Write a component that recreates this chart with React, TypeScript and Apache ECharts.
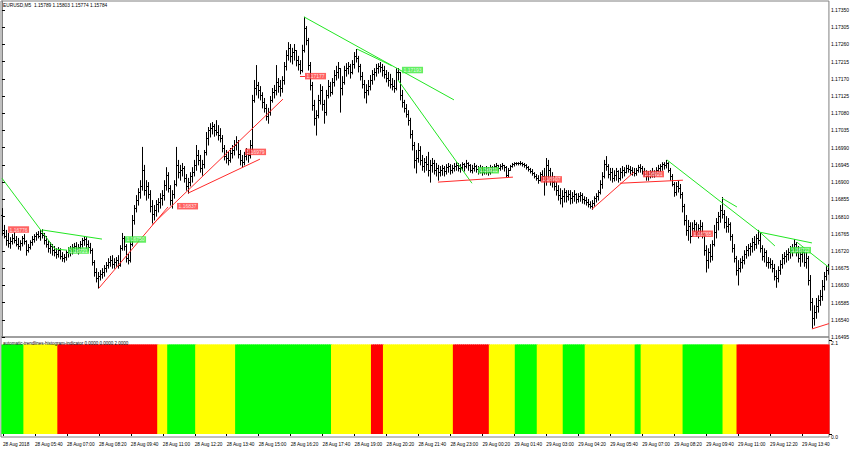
import React, { useEffect, useRef } from 'react';
import * as echarts from 'echarts';

const FONT = 'Liberation Sans';

const chartTitle = 'EURUSD,M5  1.15789 1.15803 1.15774 1.15784';
const indicatorTitle = 'automatic-trendlines-histogram-indicator 0.0000 0.0000 2.0000';

const priceTicks = [1.16495, 1.1654, 1.16585, 1.1663, 1.16675, 1.1672, 1.16765, 1.1681, 1.16855, 1.169, 1.16945, 1.1699, 1.17035, 1.1708, 1.17125, 1.1717, 1.17215, 1.1726, 1.17305, 1.1735];
const histTicks = [0, 2.1];

const dateTickLabels = ['28 Aug 2018', '28 Aug 05:40', '28 Aug 07:00', '28 Aug 08:20', '28 Aug 09:40', '28 Aug 11:00', '28 Aug 12:20', '28 Aug 13:40', '28 Aug 15:00', '28 Aug 16:20', '28 Aug 17:40', '28 Aug 19:00', '28 Aug 20:20', '28 Aug 21:40', '28 Aug 23:00', '29 Aug 00:20', '29 Aug 01:40', '29 Aug 03:00', '29 Aug 04:20', '29 Aug 05:40', '29 Aug 07:00', '29 Aug 08:20', '29 Aug 09:40', '29 Aug 11:00', '29 Aug 12:20', '29 Aug 13:40'];

const closes = [
1.16775,1.16759,1.16748,1.16741,1.16746,1.16754,1.16748,1.16738,1.16733,1.16741,
1.16754,1.16746,1.16722,1.16730,1.16743,1.16751,1.16759,1.16764,1.16759,1.16767,
1.16761,1.16748,1.16738,1.16727,1.16733,1.16722,1.16717,1.16712,1.16722,1.16707,
1.16701,1.16704,1.16717,1.16722,1.16725,1.16730,1.16733,1.16725,1.16730,1.16738,
1.16748,1.16751,1.16738,1.16730,1.16722,1.16691,1.16665,1.16649,1.16654,1.16659,
1.16665,1.16675,1.16683,1.16691,1.16696,1.16686,1.16691,1.16696,1.16683,1.16727,
1.16754,1.16733,1.16701,1.16696,1.16738,1.16801,1.16832,1.16853,1.16874,1.16890,
1.16931,1.16879,1.16890,1.16869,1.16837,1.16816,1.16827,1.16843,1.16848,1.16858,
1.16866,1.16892,1.16918,1.16884,1.16853,1.16869,1.16895,1.16945,1.16926,1.16931,
1.16937,1.16911,1.16890,1.16900,1.16916,1.16926,1.16945,1.16971,1.16958,1.16937,
1.16947,1.16979,1.17015,1.17036,1.17041,1.17047,1.17036,1.17031,1.17023,1.17015,
1.16989,1.16968,1.16963,1.16958,1.16976,1.16984,1.16997,1.17005,1.16973,1.16958,
1.16952,1.16968,1.16979,1.16971,1.16997,1.17115,1.17146,1.17154,1.17141,1.17128,
1.17109,1.17094,1.17073,1.17083,1.17115,1.17135,1.17141,1.17162,1.17151,1.17146,
1.17167,1.17204,1.17232,1.17251,1.17230,1.17240,1.17245,1.17219,1.17209,1.17193,
1.17245,1.17303,1.17272,1.17206,1.17154,1.17102,1.17068,1.17075,1.17115,1.17141,
1.17104,1.17083,1.17128,1.17151,1.17135,1.17162,1.17180,1.17188,1.17198,1.17146,
1.17162,1.17193,1.17198,1.17204,1.17188,1.17209,1.17230,1.17225,1.17204,1.17177,
1.17156,1.17135,1.17141,1.17151,1.17167,1.17183,1.17188,1.17198,1.17204,1.17201,
1.17193,1.17183,1.17172,1.17167,1.17156,1.17151,1.17146,1.17188,1.17188,1.17128,
1.17109,1.17094,1.17078,1.17062,1.17026,1.16997,1.16958,1.16963,1.16984,1.16958,
1.16942,1.16952,1.16947,1.16931,1.16945,1.16950,1.16931,1.16937,1.16926,1.16931,
1.16937,1.16929,1.16939,1.16942,1.16931,1.16937,1.16942,1.16945,1.16937,1.16939,
1.16947,1.16942,1.16950,1.16945,1.16931,1.16937,1.16942,1.16934,1.16929,1.16937,
1.16926,1.16931,1.16937,1.16926,1.16939,1.16934,1.16942,1.16945,1.16937,1.16942,
1.16945,1.16939,1.16918,1.16931,1.16942,1.16947,1.16950,1.16950,1.16950,1.16950,
1.16947,1.16945,1.16939,1.16934,1.16929,1.16924,1.16916,1.16911,1.16905,1.16921,
1.16916,1.16905,1.16945,1.16931,1.16905,1.16900,1.16890,1.16879,1.16866,1.16858,
1.16863,1.16874,1.16863,1.16869,1.16858,1.16863,1.16869,1.16856,1.16863,1.16866,
1.16856,1.16853,1.16848,1.16843,1.16837,1.16845,1.16858,1.16863,1.16874,1.16895,
1.16916,1.16947,1.16942,1.16921,1.16926,1.16911,1.16918,1.16929,1.16911,1.16926,
1.16931,1.16926,1.16937,1.16934,1.16931,1.16926,1.16924,1.16931,1.16939,1.16937,
1.16929,1.16921,1.16916,1.16921,1.16926,1.16921,1.16926,1.16931,1.16937,1.16942,
1.16947,1.16945,1.16950,1.16931,1.16916,1.16895,1.16874,1.16890,1.16884,1.16869,
1.16837,1.16801,1.16775,1.16785,1.16759,1.16780,1.16790,1.16769,1.16780,1.16785,
1.16764,1.16722,1.16696,1.16717,1.16707,1.16738,1.16769,1.16795,1.16811,1.16827,
1.16816,1.16795,1.16785,1.16790,1.16759,1.16727,1.16701,1.16670,1.16675,1.16691,
1.16696,1.16712,1.16722,1.16727,1.16733,1.16743,1.16738,1.16754,1.16748,1.16727,
1.16707,1.16717,1.16691,1.16691,1.16686,1.16675,1.16654,1.16649,1.16670,1.16686,
1.16701,1.16707,1.16712,1.16717,1.16722,1.16727,1.16738,1.16717,1.16701,1.16712,
1.16717,1.16691,1.16701,1.16644,1.16586,1.16544,1.16560,1.16576,1.16591,1.16602,
1.16628,1.16654,1.16670,1.16675
];

const opens = [
1.16814,1.16775,1.16759,1.16748,1.16741,1.16746,1.16754,1.16748,1.16738,1.16733,
1.16741,1.16754,1.16746,1.16722,1.16730,1.16743,1.16751,1.16759,1.16764,1.16759,
1.16767,1.16761,1.16748,1.16738,1.16727,1.16733,1.16722,1.16717,1.16712,1.16722,
1.16707,1.16701,1.16704,1.16717,1.16722,1.16725,1.16730,1.16733,1.16725,1.16730,
1.16738,1.16748,1.16751,1.16738,1.16730,1.16722,1.16691,1.16665,1.16649,1.16654,
1.16659,1.16665,1.16675,1.16683,1.16691,1.16696,1.16686,1.16691,1.16696,1.16683,
1.16727,1.16754,1.16733,1.16701,1.16696,1.16738,1.16801,1.16832,1.16853,1.16874,
1.16890,1.16931,1.16879,1.16890,1.16869,1.16837,1.16816,1.16827,1.16843,1.16848,
1.16858,1.16866,1.16892,1.16918,1.16884,1.16853,1.16869,1.16895,1.16945,1.16926,
1.16931,1.16937,1.16911,1.16890,1.16900,1.16916,1.16926,1.16945,1.16971,1.16958,
1.16937,1.16947,1.16979,1.17015,1.17036,1.17041,1.17047,1.17036,1.17031,1.17023,
1.17015,1.16989,1.16968,1.16963,1.16958,1.16976,1.16984,1.16997,1.17005,1.16973,
1.16958,1.16952,1.16968,1.16979,1.16971,1.16997,1.17115,1.17146,1.17154,1.17141,
1.17128,1.17109,1.17094,1.17073,1.17083,1.17115,1.17135,1.17141,1.17162,1.17151,
1.17146,1.17167,1.17204,1.17232,1.17251,1.17230,1.17240,1.17245,1.17219,1.17209,
1.17193,1.17245,1.17303,1.17272,1.17206,1.17154,1.17102,1.17068,1.17075,1.17115,
1.17141,1.17104,1.17083,1.17128,1.17151,1.17135,1.17162,1.17180,1.17188,1.17198,
1.17146,1.17162,1.17193,1.17198,1.17204,1.17188,1.17209,1.17230,1.17225,1.17204,
1.17177,1.17156,1.17135,1.17141,1.17151,1.17167,1.17183,1.17188,1.17198,1.17204,
1.17201,1.17193,1.17183,1.17172,1.17167,1.17156,1.17151,1.17146,1.17188,1.17188,
1.17128,1.17109,1.17094,1.17078,1.17062,1.17026,1.16997,1.16958,1.16963,1.16984,
1.16958,1.16942,1.16952,1.16947,1.16931,1.16945,1.16950,1.16931,1.16937,1.16926,
1.16931,1.16937,1.16929,1.16939,1.16942,1.16931,1.16937,1.16942,1.16945,1.16937,
1.16939,1.16947,1.16942,1.16950,1.16945,1.16931,1.16937,1.16942,1.16934,1.16929,
1.16937,1.16926,1.16931,1.16937,1.16926,1.16939,1.16934,1.16942,1.16945,1.16937,
1.16942,1.16945,1.16939,1.16918,1.16931,1.16942,1.16947,1.16950,1.16950,1.16950,
1.16950,1.16947,1.16945,1.16939,1.16934,1.16929,1.16924,1.16916,1.16911,1.16905,
1.16921,1.16916,1.16905,1.16945,1.16931,1.16905,1.16900,1.16890,1.16879,1.16866,
1.16858,1.16863,1.16874,1.16863,1.16869,1.16858,1.16863,1.16869,1.16856,1.16863,
1.16866,1.16856,1.16853,1.16848,1.16843,1.16837,1.16845,1.16858,1.16863,1.16874,
1.16895,1.16916,1.16947,1.16942,1.16921,1.16926,1.16911,1.16918,1.16929,1.16911,
1.16926,1.16931,1.16926,1.16937,1.16934,1.16931,1.16926,1.16924,1.16931,1.16939,
1.16937,1.16929,1.16921,1.16916,1.16921,1.16926,1.16921,1.16926,1.16931,1.16937,
1.16942,1.16947,1.16945,1.16950,1.16931,1.16916,1.16895,1.16874,1.16890,1.16884,
1.16869,1.16837,1.16801,1.16775,1.16785,1.16759,1.16780,1.16790,1.16769,1.16780,
1.16785,1.16764,1.16722,1.16696,1.16717,1.16707,1.16738,1.16769,1.16795,1.16811,
1.16827,1.16816,1.16795,1.16785,1.16790,1.16759,1.16727,1.16701,1.16670,1.16675,
1.16691,1.16696,1.16712,1.16722,1.16727,1.16733,1.16743,1.16738,1.16754,1.16748,
1.16727,1.16707,1.16717,1.16691,1.16691,1.16686,1.16675,1.16654,1.16649,1.16670,
1.16686,1.16701,1.16707,1.16712,1.16717,1.16722,1.16727,1.16738,1.16717,1.16701,
1.16712,1.16717,1.16691,1.16701,1.16644,1.16586,1.16544,1.16560,1.16576,1.16591,
1.16602,1.16628,1.16654,1.16670
];

const highs = [
1.16832,1.16788,1.16775,1.16767,1.16756,1.16764,1.16769,1.16759,1.16754,1.16748,
1.16759,1.16764,1.16748,1.16738,1.16748,1.16759,1.16764,1.16769,1.16772,1.16775,
1.16777,1.16767,1.16759,1.16748,1.16743,1.16738,1.16733,1.16727,1.16730,1.16727,
1.16717,1.16712,1.16722,1.16730,1.16733,1.16738,1.16741,1.16743,1.16738,1.16746,
1.16754,1.16759,1.16756,1.16748,1.16741,1.16727,1.16696,1.16675,1.16665,1.16670,
1.16675,1.16683,1.16691,1.16701,1.16707,1.16709,1.16701,1.16704,1.16709,1.16735,
1.16767,1.16759,1.16738,1.16712,1.16748,1.16814,1.16840,1.16866,1.16884,1.16905,
1.16992,1.16945,1.16905,1.16900,1.16879,1.16853,1.16840,1.16853,1.16858,1.16871,
1.16879,1.16905,1.16939,1.16926,1.16892,1.16879,1.16905,1.16992,1.16958,1.16945,
1.16950,1.16942,1.16921,1.16911,1.16926,1.16939,1.16958,1.16997,1.16984,1.16971,
1.16958,1.16984,1.17031,1.17044,1.17054,1.17057,1.17052,1.17062,1.17049,1.17041,
1.17023,1.16997,1.16984,1.16979,1.16989,1.16997,1.17010,1.17020,1.17010,1.16984,
1.16971,1.16979,1.16989,1.16984,1.17010,1.17128,1.17167,1.17206,1.17162,1.17151,
1.17135,1.17120,1.17104,1.17094,1.17125,1.17146,1.17154,1.17206,1.17172,1.17167,
1.17177,1.17214,1.17245,1.17266,1.17261,1.17251,1.17261,1.17245,1.17230,1.17219,
1.17259,1.17332,1.17308,1.17277,1.17214,1.17162,1.17115,1.17088,1.17128,1.17156,
1.17151,1.17115,1.17141,1.17167,1.17162,1.17172,1.17193,1.17204,1.17214,1.17198,
1.17177,1.17204,1.17211,1.17214,1.17209,1.17219,1.17240,1.17248,1.17230,1.17209,
1.17188,1.17167,1.17156,1.17167,1.17180,1.17193,1.17198,1.17209,1.17211,1.17214,
1.17209,1.17204,1.17193,1.17188,1.17183,1.17172,1.17167,1.17198,1.17198,1.17188,
1.17141,1.17115,1.17104,1.17088,1.17068,1.17036,1.17005,1.16984,1.17002,1.16994,
1.16971,1.16963,1.16968,1.16979,1.16958,1.16963,1.16958,1.16950,1.16945,1.16942,
1.16945,1.16942,1.16947,1.16950,1.16947,1.16945,1.16950,1.16952,1.16950,1.16947,
1.16952,1.16950,1.16958,1.16952,1.16947,1.16945,1.16950,1.16945,1.16942,1.16945,
1.16942,1.16939,1.16942,1.16939,1.16945,1.16942,1.16947,1.16950,1.16945,1.16947,
1.16950,1.16945,1.16942,1.16937,1.16945,1.16950,1.16952,1.16952,1.16952,1.16955,
1.16952,1.16950,1.16947,1.16942,1.16937,1.16934,1.16926,1.16921,1.16918,1.16926,
1.16931,1.16937,1.16963,1.16958,1.16937,1.16926,1.16916,1.16900,1.16892,1.16884,
1.16879,1.16884,1.16879,1.16879,1.16879,1.16874,1.16879,1.16871,1.16871,1.16874,
1.16871,1.16863,1.16861,1.16856,1.16850,1.16853,1.16863,1.16871,1.16879,1.16905,
1.16926,1.16958,1.16968,1.16947,1.16937,1.16937,1.16931,1.16937,1.16931,1.16937,
1.16942,1.16939,1.16945,1.16945,1.16942,1.16939,1.16937,1.16937,1.16945,1.16947,
1.16942,1.16937,1.16931,1.16929,1.16931,1.16937,1.16931,1.16939,1.16945,1.16947,
1.16952,1.16952,1.16958,1.16952,1.16937,1.16921,1.16900,1.16900,1.16905,1.16895,
1.16874,1.16843,1.16814,1.16801,1.16795,1.16795,1.16801,1.16795,1.16790,1.16801,
1.16795,1.16769,1.16735,1.16727,1.16738,1.16748,1.16788,1.16806,1.16822,1.16840,
1.16861,1.16827,1.16811,1.16806,1.16795,1.16764,1.16738,1.16707,1.16696,1.16701,
1.16707,1.16722,1.16733,1.16738,1.16741,1.16754,1.16759,1.16764,1.16775,1.16769,
1.16735,1.16727,1.16722,1.16704,1.16701,1.16696,1.16686,1.16670,1.16680,1.16696,
1.16712,1.16717,1.16722,1.16727,1.16733,1.16738,1.16751,1.16743,1.16733,1.16727,
1.16727,1.16722,1.16717,1.16707,1.16657,1.16597,1.16578,1.16597,1.16604,1.16618,
1.16644,1.16665,1.16680,1.16686
];

const lows = [
1.16761,1.16754,1.16735,1.16730,1.16727,1.16738,1.16741,1.16733,1.16725,1.16722,
1.16733,1.16738,1.16709,1.16717,1.16725,1.16735,1.16743,1.16748,1.16754,1.16748,
1.16754,1.16738,1.16730,1.16717,1.16714,1.16709,1.16707,1.16701,1.16704,1.16699,
1.16693,1.16691,1.16696,1.16704,1.16707,1.16712,1.16720,1.16717,1.16712,1.16722,
1.16730,1.16735,1.16727,1.16720,1.16714,1.16683,1.16654,1.16639,1.16623,1.16644,
1.16649,1.16654,1.16665,1.16675,1.16680,1.16675,1.16675,1.16680,1.16675,1.16680,
1.16722,1.16722,1.16691,1.16686,1.16691,1.16733,1.16790,1.16822,1.16840,1.16858,
1.16879,1.16866,1.16853,1.16858,1.16822,1.16793,1.16801,1.16811,1.16822,1.16832,
1.16840,1.16853,1.16879,1.16874,1.16840,1.16832,1.16858,1.16890,1.16911,1.16905,
1.16916,1.16900,1.16879,1.16871,1.16890,1.16900,1.16916,1.16931,1.16945,1.16926,
1.16918,1.16937,1.16971,1.16997,1.17018,1.17026,1.17020,1.17023,1.17010,1.17005,
1.16979,1.16958,1.16950,1.16945,1.16952,1.16963,1.16971,1.16984,1.16963,1.16945,
1.16939,1.16945,1.16958,1.16952,1.16963,1.16984,1.17109,1.17128,1.17120,1.17115,
1.17094,1.17083,1.17062,1.17054,1.17075,1.17109,1.17120,1.17128,1.17135,1.17125,
1.17135,1.17156,1.17193,1.17219,1.17214,1.17209,1.17219,1.17204,1.17193,1.17183,
1.17188,1.17240,1.17259,1.17193,1.17141,1.17088,1.17049,1.17023,1.17068,1.17104,
1.17088,1.17054,1.17075,1.17120,1.17125,1.17130,1.17151,1.17167,1.17172,1.17083,
1.17128,1.17156,1.17177,1.17183,1.17172,1.17183,1.17198,1.17214,1.17188,1.17167,
1.17146,1.17120,1.17107,1.17128,1.17141,1.17156,1.17167,1.17177,1.17185,1.17188,
1.17177,1.17172,1.17162,1.17151,1.17146,1.17141,1.17135,1.17141,1.17167,1.17115,
1.17096,1.17083,1.17070,1.17049,1.17015,1.16984,1.16937,1.16924,1.16952,1.16945,
1.16931,1.16926,1.16931,1.16916,1.16900,1.16926,1.16921,1.16916,1.16905,1.16916,
1.16918,1.16916,1.16921,1.16926,1.16921,1.16924,1.16929,1.16931,1.16929,1.16926,
1.16931,1.16929,1.16937,1.16931,1.16926,1.16924,1.16929,1.16926,1.16921,1.16924,
1.16918,1.16921,1.16921,1.16918,1.16921,1.16926,1.16931,1.16931,1.16929,1.16931,
1.16934,1.16929,1.16913,1.16913,1.16931,1.16939,1.16942,1.16945,1.16945,1.16945,
1.16942,1.16939,1.16934,1.16929,1.16924,1.16918,1.16911,1.16905,1.16897,1.16903,
1.16905,1.16866,1.16892,1.16911,1.16892,1.16887,1.16879,1.16866,1.16853,1.16843,
1.16835,1.16848,1.16848,1.16853,1.16843,1.16845,1.16850,1.16845,1.16848,1.16850,
1.16845,1.16843,1.16840,1.16835,1.16832,1.16829,1.16837,1.16848,1.16853,1.16869,
1.16884,1.16911,1.16931,1.16911,1.16905,1.16900,1.16903,1.16905,1.16900,1.16905,
1.16911,1.16916,1.16924,1.16926,1.16921,1.16918,1.16916,1.16918,1.16926,1.16926,
1.16921,1.16916,1.16905,1.16905,1.16911,1.16913,1.16913,1.16918,1.16924,1.16926,
1.16931,1.16934,1.16937,1.16926,1.16905,1.16890,1.16863,1.16866,1.16874,1.16858,
1.16822,1.16788,1.16761,1.16748,1.16741,1.16759,1.16769,1.16759,1.16754,1.16764,
1.16754,1.16709,1.16665,1.16675,1.16691,1.16696,1.16733,1.16754,1.16775,1.16795,
1.16806,1.16780,1.16769,1.16769,1.16748,1.16717,1.16691,1.16657,1.16631,1.16665,
1.16675,1.16686,1.16701,1.16707,1.16709,1.16717,1.16722,1.16727,1.16738,1.16717,
1.16696,1.16691,1.16680,1.16675,1.16675,1.16665,1.16644,1.16625,1.16639,1.16659,
1.16675,1.16686,1.16691,1.16696,1.16701,1.16707,1.16717,1.16707,1.16691,1.16680,
1.16691,1.16680,1.16675,1.16631,1.16565,1.16518,1.16526,1.16544,1.16560,1.16578,
1.16591,1.16618,1.16644,1.16659
];

// histogram state runs: [state, number of bars]
const histogramRuns: [string, number][] = [
  ['up', 11], ['flat', 17], ['down', 50], ['flat', 5], ['up', 14], ['flat', 20], ['up', 48],
  ['flat', 20], ['down', 6], ['flat', 35], ['down', 18], ['flat', 13], ['up', 11], ['flat', 13],
  ['up', 11], ['flat', 25], ['up', 3], ['flat', 21], ['up', 20], ['flat', 7], ['down', 46]
];
const histogramValue = 2;

// trendlines: [startBar, startPrice, endBar, endPrice]
const greenTrendlines = [
  [0, 1.1691, 26.5, 1.16725],
  [26.5, 1.16725, 32.5, 1.16722],
  [20, 1.16775, 50, 1.16751],
  [151, 1.17332, 226, 1.17115],
  [177.5, 1.17248, 195, 1.17204],
  [198, 1.17167, 235, 1.16897],
  [332.5, 1.16958, 379, 1.16769],
  [360, 1.16858, 367.5, 1.16835],
  [379, 1.16769, 386.5, 1.16733],
  [379, 1.16769, 405, 1.16741],
  [397.5, 1.16743, 413.5, 1.16677]
];
const redTrendlines = [
  [48.5, 1.16623, 83, 1.16835],
  [75, 1.16788, 140.5, 1.17117],
  [93, 1.16871, 129, 1.1696],
  [149, 1.17177, 151.5, 1.17177],
  [218, 1.169, 255.5, 1.16913],
  [295, 1.16829, 316, 1.16926],
  [309, 1.16897, 340.5, 1.16905],
  [405, 1.16516, 413.5, 1.1653]
];

// price tags placed on the trendlines
const tagBars = [3, 33, 61.5, 87.5, 121.5, 151.5, 200, 238, 269.5, 320.5, 345, 394];
const tagPrices = [1.16776, 1.16721, 1.1675, 1.16837, 1.16979, 1.17177, 1.17193, 1.16931, 1.16907, 1.16921, 1.16765, 1.16722];
const tagKinds = ['red', 'green', 'green', 'red', 'red', 'red', 'green', 'green', 'red', 'red', 'red', 'green'];

const histColors: Record<string, string> = { up: '#00FF00', flat: '#FFFF00', down: '#FF0000' };

function buildTimes(n: number): string[] {
  const out: string[] = [];
  for (let i = 0; i < n; i++) {
    const m = 4 * 60 + 20 + 5 * i;
    const day = 28 + Math.floor(m / 1440);
    const mm = m % 1440;
    const hh = String(Math.floor(mm / 60)).padStart(2, '0');
    const mi = String(mm % 60).padStart(2, '0');
    out.push(`${day} Aug ${hh}:${mi}`);
  }
  return out;
}

export default function App() {
  const ref = useRef<HTMLDivElement>(null);
  useEffect(() => {
    if (!ref.current) return;
    const chart = echarts.init(ref.current, undefined, { renderer: 'svg' });
    const n = closes.length;
    const times = buildTimes(n);
    const candleData = closes.map((c, i) => [i, opens[i], highs[i], lows[i], c]);
    const histData: any[] = [];
    const histState: string[] = [];
    histogramRuns.forEach(([state, count]) => {
      for (let k = 0; k < count; k++) {
        histData.push([histData.length, histogramValue]);
        histState.push(state);
      }
    });
    const lineStyle = { stroke: '#000', lineWidth: 1 };
    const renderCandle = (params: any, api: any) => {
      const i = api.value(0);
      const o = api.value(1), h = api.value(2), l = api.value(3), c = api.value(4);
      const top = api.coord([i, Math.max(h, o, c)]);
      const bot = api.coord([i, Math.min(l, o, c)]);
      const po = api.coord([i, o]);
      const pc = api.coord([i, c]);
      const x = Math.round(top[0]) + 0.5;
      const yo = Math.round(po[1]) + 0.5;
      const yc = Math.round(pc[1]) + 0.5;
      return {
        type: 'group',
        children: [
          { type: 'line', shape: { x1: x, y1: top[1], x2: x, y2: bot[1] + 0.5 }, style: lineStyle },
          { type: 'line', shape: { x1: x - 1.5, y1: yo, x2: x, y2: yo }, style: lineStyle },
          { type: 'line', shape: { x1: x, y1: yc, x2: x + 1.5, y2: yc }, style: lineStyle }
        ]
      };
    };
    const renderHist = (params: any, api: any) => {
      const i = api.value(0);
      const top = api.coord([i, api.value(1)]);
      const base = api.coord([i, 0]);
      const w = api.size([1, 0])[0];
      return {
        type: 'rect',
        shape: { x: top[0] - w / 2 - 0.6, y: top[1], width: w + 1.2, height: base[1] - top[1] },
        style: { fill: histColors[histState[params.dataIndex]] }
      };
    };
    const segs = (arr: number[][]) => arr.map((t) => ({ coords: [[t[0], t[1]], [t[2], t[3]]] }));
    const option: any = {
      animation: false,
      textStyle: { fontFamily: FONT },
      grid: [
        { left: 1, top: 1, width: 828, height: 336, show: true, borderColor: '#808080', borderWidth: 1, backgroundColor: 'transparent' },
        { left: 1, top: 340, width: 828, height: 94, show: false }
      ],
      xAxis: [
        { type: 'category', gridIndex: 0, data: times, boundaryGap: true, show: false },
        {
          type: 'category', gridIndex: 1, data: times, boundaryGap: true, offset: 3,
          axisLine: { show: false },
          axisTick: { show: true, interval: 15, alignWithLabel: true, length: 2, lineStyle: { color: '#000' } },
          axisLabel: {
            interval: 15, align: 'left', fontSize: 4.7, margin: 5, color: '#000', fontFamily: FONT,
            formatter: (_v: string, idx: number) => dateTickLabels[Math.round(idx / 16)] ?? ''
          },
          splitLine: { show: false }
        },
        { type: 'value', gridIndex: 0, min: -0.5, max: n - 0.5, show: false }
      ],
      yAxis: [
        {
          type: 'value', gridIndex: 0, position: 'right', min: 1.16495, max: 1.173735,
          axisLine: { show: true, lineStyle: { color: '#808080' } },
          axisTick: { show: true, length: 3, customValues: priceTicks, lineStyle: { color: '#000' } },
          axisLabel: { customValues: priceTicks, formatter: (v: number) => v.toFixed(5), fontSize: 5, margin: 2, color: '#000', fontFamily: FONT },
          splitLine: { show: false }
        },
        {
          type: 'value', gridIndex: 1, position: 'right', min: 0, max: 2.1,
          axisLine: { show: false },
          axisTick: { show: true, length: 3, customValues: histTicks, lineStyle: { color: '#000' } },
          axisLabel: { customValues: histTicks, formatter: (v: number) => v.toFixed(1), fontSize: 5, margin: 2, color: '#000', fontFamily: FONT, verticalAlign: 'top' },
          splitLine: { show: false }
        }
      ],
      graphic: [
        { type: 'rect', shape: { x: 1, y: 337, width: 828, height: 100 }, style: { fill: 'none', stroke: '#808080', lineWidth: 1 }, z: 0 },
        { type: 'text', x: 3, y: 2.5, style: { text: chartTitle, fontSize: 4.8, fill: '#000', fontFamily: FONT, textVerticalAlign: 'top' }, z: 100 },
        { type: 'text', x: 3, y: 340.5, style: { text: indicatorTitle, fontSize: 4.5, fill: '#000', fontFamily: FONT, textVerticalAlign: 'top' }, z: 100 }
      ],
      series: [
        {
          type: 'custom', name: 'EURUSD', xAxisIndex: 0, yAxisIndex: 0, data: candleData,
          encode: { x: 0, y: [1, 2, 3, 4] }, renderItem: renderCandle, clip: true, z: 3, silent: true
        },
        {
          type: 'lines', coordinateSystem: 'cartesian2d', xAxisIndex: 2, yAxisIndex: 0,
          data: segs(greenTrendlines), lineStyle: { color: '#22E622', width: 1, opacity: 1, curveness: 0 }, z: 4, silent: true
        },
        {
          type: 'lines', coordinateSystem: 'cartesian2d', xAxisIndex: 2, yAxisIndex: 0,
          data: segs(redTrendlines), lineStyle: { color: '#FF2A2A', width: 1, opacity: 1, curveness: 0 }, z: 4, silent: true
        },
        {
          type: 'scatter', xAxisIndex: 2, yAxisIndex: 0, symbolSize: 0, z: 5, silent: true,
          data: tagBars.map((b, k) => ({
            value: [b, tagPrices[k]],
            label: { backgroundColor: tagKinds[k] === 'green' ? '#3BEA3B' : '#FF3B3B' }
          })),
          label: {
            show: true, position: 'right', distance: 0, color: '#fff', fontSize: 5, fontFamily: FONT,
            padding: [1, 1.5, 0.5, 1.5], formatter: (p: any) => p.value[1].toFixed(5)
          }
        },
        {
          type: 'custom', xAxisIndex: 1, yAxisIndex: 1, data: histData,
          encode: { x: 0, y: 1 }, renderItem: renderHist, clip: false, silent: true, z: 2
        }
      ]
    };
    chart.setOption(option);
    return () => chart.dispose();
  }, []);
  return <div ref={ref} style={{ position: 'absolute', left: 0, top: 0, width: 852, height: 450 }} />;
}
